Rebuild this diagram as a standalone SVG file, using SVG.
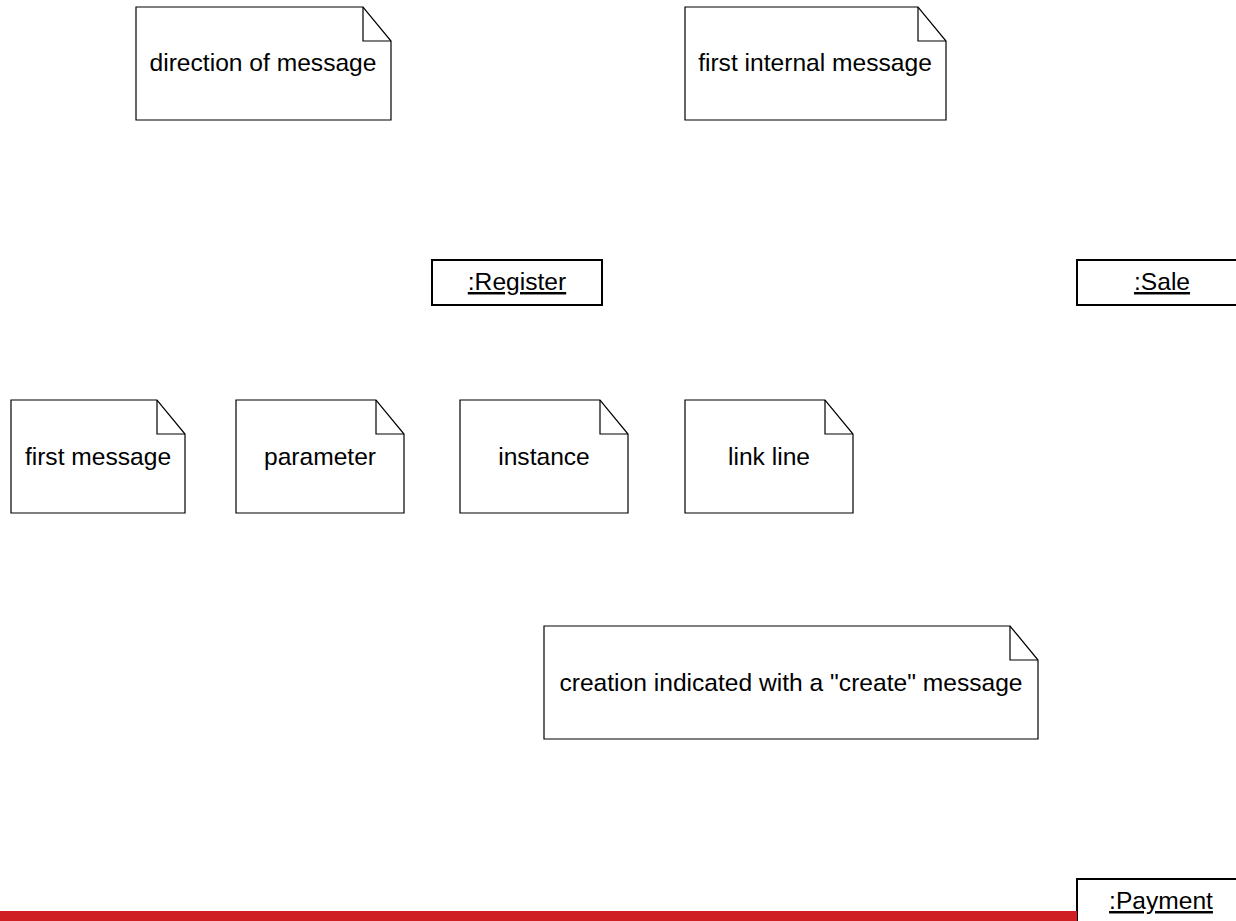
<svg xmlns="http://www.w3.org/2000/svg" width="1236" height="921" viewBox="0 0 1236 921">
<style>
.note{fill:#fff;stroke:#000;stroke-width:1.2}
.fold{fill:none;stroke:#000;stroke-width:1.2}
.obj{fill:#fff;stroke:#000;stroke-width:2}
.t{font-family:"Liberation Sans",Arial,sans-serif;font-size:24.6px;fill:#000;text-anchor:middle}
.u{text-decoration:underline}
</style>
<rect width="1236" height="921" fill="#fff"/>
<g id="note-direction">
<path class="note" d="M136,7 H363 L391,41 V120 H136 Z"/>
<path class="fold" d="M363,7 V41 H391"/>
<text class="t" x="263" y="71">direction of message</text>
</g>
<g id="note-first-internal">
<path class="note" d="M685,7 H918 L946,41 V120 H685 Z"/>
<path class="fold" d="M918,7 V41 H946"/>
<text class="t" x="815" y="71">first internal message</text>
</g>
<g id="register">
<rect class="obj" x="432" y="260" width="170" height="45"/>
<text class="t u" x="517" y="290">:Register</text>
</g>
<g id="sale">
<rect class="obj" x="1077" y="260" width="170" height="45"/>
<text class="t u" x="1162" y="290">:Sale</text>
</g>
<g id="note-first-message">
<path class="note" d="M11,400 H157 L185,434 V513 H11 Z"/>
<path class="fold" d="M157,400 V434 H185"/>
<text class="t" x="98" y="465">first message</text>
</g>
<g id="note-parameter">
<path class="note" d="M236,400 H376 L404,434 V513 H236 Z"/>
<path class="fold" d="M376,400 V434 H404"/>
<text class="t" x="320" y="465">parameter</text>
</g>
<g id="note-instance">
<path class="note" d="M460,400 H600 L628,434 V513 H460 Z"/>
<path class="fold" d="M600,400 V434 H628"/>
<text class="t" x="544" y="465">instance</text>
</g>
<g id="note-link-line">
<path class="note" d="M685,400 H825 L853,434 V513 H685 Z"/>
<path class="fold" d="M825,400 V434 H853"/>
<text class="t" x="769" y="465">link line</text>
</g>
<g id="note-creation">
<path class="note" d="M544,626 H1010 L1038,660 V739 H544 Z"/>
<path class="fold" d="M1010,626 V660 H1038"/>
<text class="t" x="791" y="691">creation indicated with a "create" message</text>
</g>
<g id="payment">
<rect class="obj" x="1077" y="879" width="170" height="60"/>
<text class="t u" x="1161" y="909">:Payment</text>
</g>
<g id="connectors">
<rect x="0" y="911" width="1077" height="10" fill="#D01F23"/>
</g>
</svg>
